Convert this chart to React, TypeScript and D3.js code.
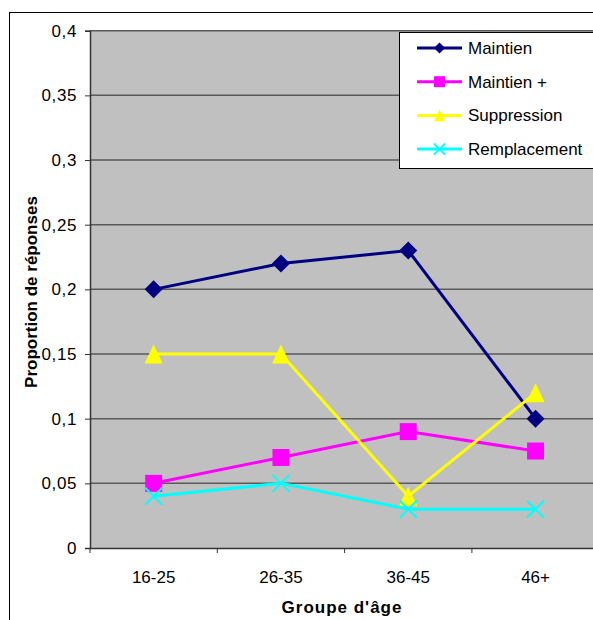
import React, { useEffect, useRef } from 'react';
import * as d3 from 'd3';

const categories = ['16-25', '26-35', '36-45', '46+'];
const maintien = [0.2, 0.22, 0.23, 0.1];
const maintienPlus = [0.05, 0.07, 0.09, 0.075];
const suppression = [0.15, 0.15, 0.04, 0.12];
const remplacement = [0.04, 0.05, 0.03, 0.03];
const yTicks = [0, 0.05, 0.1, 0.15, 0.2, 0.25, 0.3, 0.35, 0.4];

const series = [
  { name: 'Maintien', values: maintien, color: '#000080', marker: 'diamond' },
  { name: 'Maintien +', values: maintienPlus, color: '#FF00FF', marker: 'square' },
  { name: 'Suppression', values: suppression, color: '#FFFF00', marker: 'triangle' },
  { name: 'Remplacement', values: remplacement, color: '#00FFFF', marker: 'cross' },
];

const FONT = 'Liberation Sans, Arial, sans-serif';

const App = () => {
  const svgRef = useRef<SVGSVGElement>(null);

  useEffect(() => {
    const svg = d3.select(svgRef.current);
    svg.selectAll('*').remove();

    const left = 90;
    const top = 30.7;
    const bottom = 548;
    const right = 90 + 4 * 127.3;

    const x = d3.scaleBand().domain(categories).range([left, right]);
    const y = d3.scaleLinear().domain([0, 0.4]).range([bottom, top]);
    const fmt = (v: number) => d3.format('.2~f')(v).replace('.', ',');

    // outer chart border
    svg.append('rect')
      .attr('x', 9.5).attr('y', 12.5)
      .attr('width', 700).attr('height', 700)
      .attr('fill', 'white').attr('stroke', 'black').attr('stroke-width', 1);

    // plot area
    svg.append('rect')
      .attr('x', left).attr('y', top)
      .attr('width', right - left).attr('height', bottom - top)
      .attr('fill', '#C0C0C0');

    // gridlines
    svg.append('g')
      .selectAll('line')
      .data(yTicks.filter((t) => t > 0))
      .enter()
      .append('line')
      .attr('x1', left).attr('x2', right)
      .attr('y1', (d) => y(d)).attr('y2', (d) => y(d))
      .attr('stroke', '#5a5a5a').attr('stroke-width', 1.5);

    // y axis
    const yAxis = svg.append('g')
      .attr('transform', `translate(${left},0)`)
      .call(d3.axisLeft(y).tickValues(yTicks).tickFormat((d) => fmt(d as number)).tickSize(5).tickPadding(8));
    yAxis.select('.domain').attr('stroke', '#333').attr('stroke-width', 1.5);
    yAxis.selectAll('.tick line').attr('stroke', '#333');
    yAxis.selectAll('text')
      .attr('font-family', FONT)
      .attr('font-size', 17).attr('letter-spacing', 0.6).attr('fill', 'black');

    // x axis
    const xAxis = svg.append('g')
      .attr('transform', `translate(0,${bottom})`)
      .call(d3.axisBottom(x).tickSize(0).tickPadding(23));
    xAxis.select('.domain').attr('stroke', '#333').attr('stroke-width', 1.5);
    xAxis.selectAll('text')
      .attr('font-family', FONT)
      .attr('font-size', 17).attr('fill', 'black');
    svg.append('g')
      .selectAll('line')
      .data(d3.range(categories.length + 1))
      .enter()
      .append('line')
      .attr('x1', (i) => left + i * x.bandwidth()).attr('x2', (i) => left + i * x.bandwidth())
      .attr('y1', bottom).attr('y2', bottom + 5)
      .attr('stroke', '#333');

    // axis titles
    svg.append('text')
      .attr('x', 342).attr('y', 613)
      .attr('text-anchor', 'middle')
      .attr('font-family', FONT)
      .attr('font-size', 17).attr('font-weight', 'bold').attr('letter-spacing', 1)
      .text("Groupe d'âge");
    svg.append('text')
      .attr('transform', `translate(37,292) rotate(-90)`)
      .attr('text-anchor', 'middle')
      .attr('font-family', FONT)
      .attr('font-size', 17).attr('font-weight', 'bold')
      .text('Proportion de réponses');

    const markerPath = (type: string, s: number) => {
      const h = s / 2;
      if (type === 'diamond') return `M0,${-h}L${h},0L0,${h}L${-h},0Z`;
      if (type === 'square') return `M${-h},${-h}H${h}V${h}H${-h}Z`;
      if (type === 'triangle') return `M0,${-h * 1.06}L${h},${h * 1.06}L${-h},${h * 1.06}Z`;
      return `M${-h},${-h}L${h},${h}M${-h},${h}L${h},${-h}`;
    };

    const drawMarker = (g: any, type: string, color: string, cx: number, cy: number, s: number) => {
      const p = g.append('path')
        .attr('d', markerPath(type, s))
        .attr('transform', `translate(${cx},${cy})`);
      if (type === 'cross') p.attr('fill', 'none').attr('stroke', color).attr('stroke-width', 2);
      else p.attr('fill', color);
    };

    const sizes: Record<string, number> = { diamond: 18, square: 17, triangle: 18, cross: 17 };

    const line = d3.line<number>()
      .x((_, i) => (x(categories[i]) as number) + x.bandwidth() / 2)
      .y((d) => y(d));

    series.forEach((s) => {
      const g = svg.append('g');
      g.append('path')
        .attr('d', line(s.values))
        .attr('fill', 'none').attr('stroke', s.color).attr('stroke-width', 3);
      s.values.forEach((v, i) => {
        drawMarker(g, s.marker, s.color, (x(categories[i]) as number) + x.bandwidth() / 2, y(v), sizes[s.marker]);
      });
    });

    // legend
    const lg = svg.append('g');
    lg.append('rect')
      .attr('x', 399.5).attr('y', 32.5)
      .attr('width', 300).attr('height', 136)
      .attr('fill', 'white').attr('stroke', 'black');
    series.forEach((s, i) => {
      const ly = 48 + i * 33.7;
      lg.append('line')
        .attr('x1', 417).attr('x2', 462)
        .attr('y1', ly).attr('y2', ly)
        .attr('stroke', s.color).attr('stroke-width', 3);
      drawMarker(lg, s.marker, s.color, 439.5, ly, 11);
      lg.append('text')
        .attr('x', 468).attr('y', ly + 6)
        .attr('font-family', FONT)
        .attr('font-size', 17)
        .text(s.name);
    });
  }, []);

  return (
    <svg ref={svgRef} width={593} height={620} style={{ position: 'absolute', left: 0, top: 0 }}></svg>
  );
};

export default App;
